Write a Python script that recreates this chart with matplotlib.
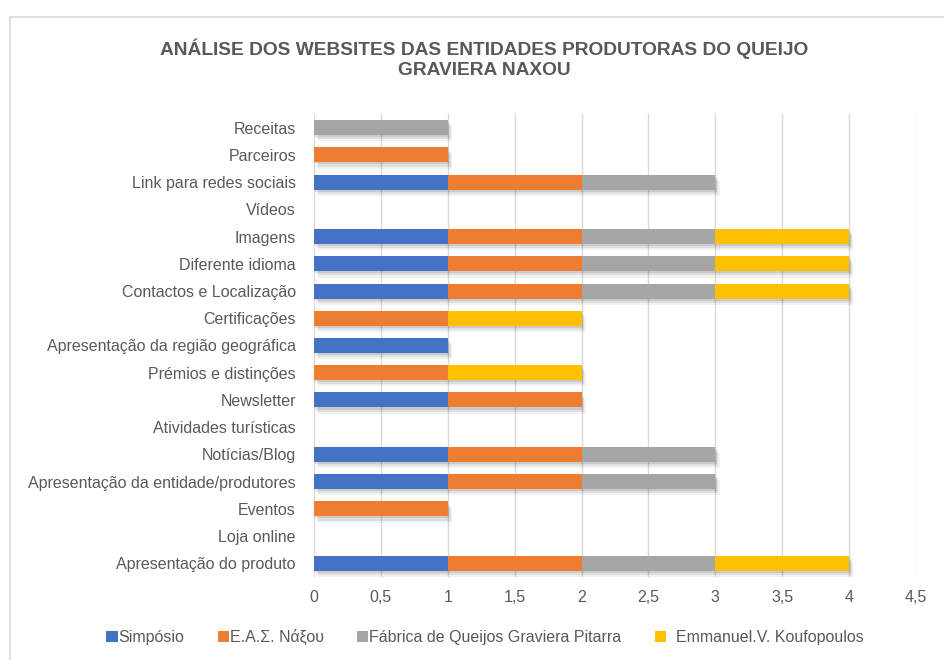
import matplotlib.pyplot as plt
import matplotlib.patheffects as pe
from matplotlib.patches import Rectangle, Patch
import numpy as np

plt.rcParams['font.family'] = ['Liberation Sans', 'DejaVu Sans']

# categorias de baixo para cima
categorias = ["Apresentação do produto", "Loja online", "Eventos",
              "Apresentação da entidade/produtores", "Notícias/Blog",
              "Atividades turísticas", "Newsletter", "Prémios e distinções",
              "Apresentação da região geográfica", "Certificações",
              "Contactos e Localização", "Diferente idioma", "Imagens",
              "Vídeos", "Link para redes sociais", "Parceiros", "Receitas"]

simposio = [1, 0, 0, 1, 1, 0, 1, 0, 1, 0, 1, 1, 1, 0, 1, 0, 0]
eas_naxou = [1, 0, 1, 1, 1, 0, 1, 1, 0, 1, 1, 1, 1, 0, 1, 1, 0]
pitarra = [1, 0, 0, 1, 1, 0, 0, 0, 0, 0, 1, 1, 1, 0, 1, 0, 1]
koufopoulos = [1, 0, 0, 0, 0, 0, 0, 1, 0, 1, 1, 1, 1, 0, 0, 0, 0]

series = ["Simpósio", "Ε.Α.Σ. Νάξου", "Fábrica de Queijos Graviera Pitarra",
          "  Emmanuel.V. Koufopoulos"]
cores = ["#4472c4", "#ed7d31", "#a5a5a5", "#ffc000"]

texto = "#595959"

fig = plt.figure(figsize=(9.44, 6.6), dpi=100)
ax = fig.add_axes([314 / 944, 1 - 577 / 660, (916 - 314) / 944, (577 - 114) / 660])

# moldura do gráfico
fig.patches.append(Rectangle((10 / 944, -0.1), 1.0, 1 - 17 / 660 + 0.1,
                             transform=fig.transFigure, fill=False,
                             edgecolor="#d9d9d9", linewidth=1.2))

y = np.arange(len(categorias))
esquerda = np.zeros(len(categorias))
# sombra suave (várias camadas para imitar o desfoque)
sombra = [pe.SimplePatchShadow(offset=(1, -1.5), shadow_rgbFace="black", alpha=0.09),
          pe.SimplePatchShadow(offset=(2, -3), shadow_rgbFace="black", alpha=0.08),
          pe.SimplePatchShadow(offset=(3, -4.5), shadow_rgbFace="black", alpha=0.05),
          pe.Normal()]
for nome, valores, cor in zip(series, [simposio, eas_naxou, pitarra, koufopoulos], cores):
    valores = np.array(valores)
    barras = ax.barh(y, valores, left=esquerda, height=0.55, color=cor)
    for b, v in zip(barras, valores):
        if v > 0:
            b.set_path_effects(sombra)
    esquerda = esquerda + valores

ax.set_xlim(0, 4.5)
ax.set_ylim(-0.5, len(categorias) - 0.5)
ax.set_xticks(np.arange(0, 4.51, 0.5))
ax.set_xticklabels(["0", "0,5", "1", "1,5", "2", "2,5", "3", "3,5", "4", "4,5"])
ax.set_yticks(y)
ax.set_yticklabels(categorias)
ax.tick_params(length=0, labelsize=11.5, colors=texto)
ax.tick_params(axis='x', pad=9)
ax.tick_params(axis='y', pad=13)
ax.grid(axis='x', color="#d9d9d9", linewidth=1)
ax.set_axisbelow(True)
for s in ax.spines.values():
    s.set_visible(False)

fig.text(484 / 944, 1 - 58.5 / 660, "ANÁLISE DOS WEBSITES DAS ENTIDADES PRODUTORAS DO QUEIJO\nGRAVIERA NAXOU",
         ha='center', va='center', fontsize=13.8, fontweight='bold', color=texto,
         linespacing=1.2)

alcas = [Patch(facecolor=c, label=n) for n, c in zip(series, cores)]
fig.legend(handles=alcas, loc='center', bbox_to_anchor=(485 / 944, 1 - 637 / 660), ncol=4,
           frameon=False, fontsize=11.5, labelcolor=texto, handlelength=0.7,
           handleheight=0.7, handletextpad=0.05, columnspacing=2.1)

fig.savefig("out.png", dpi=100)
